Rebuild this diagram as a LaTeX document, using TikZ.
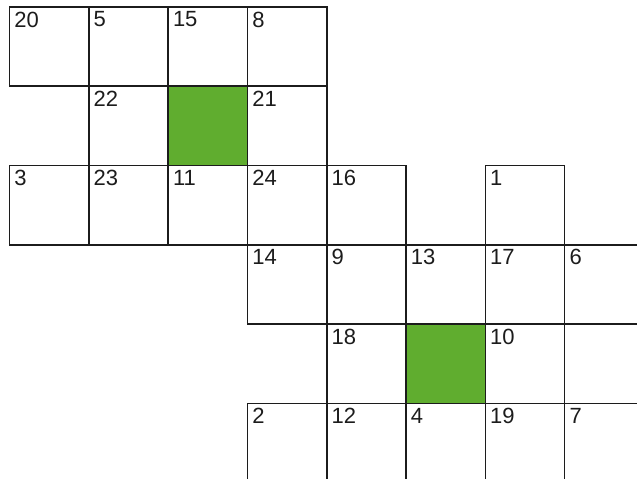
\documentclass[tikz,border=0pt]{standalone}
\usepackage{fontspec}
\setmainfont{Liberation Sans}
\usetikzlibrary{positioning, calc}
\definecolor{GridLine}{RGB}{28, 28, 28}
\definecolor{BlockGreen}{RGB}{96, 173, 47}

\begin{document}
\begin{tikzpicture}[
    x=1pt, y=-1pt,
    cell/.style={rectangle, draw=GridLine, line width=1.6pt, minimum size=79.3pt, inner sep=0pt, anchor=north west},
    block/.style={cell, fill=BlockGreen},
    num/.style={inner sep=0pt, anchor=north west, font=\fontsize{22}{24}\selectfont, text=GridLine}
]
    \useasboundingbox (0,0) rectangle (637,479);
    \clip (0,0) rectangle (637,479);

    % numbered cells: column / row / number
    \foreach \c/\r/\n in {0/0/20, 1/0/5, 2/0/15, 3/0/8,
                          1/1/22, 3/1/21,
                          0/2/3, 1/2/23, 2/2/11, 3/2/24, 4/2/16, 6/2/1,
                          3/3/14, 4/3/9, 5/3/13, 6/3/17, 7/3/6,
                          4/4/18, 6/4/10,
                          3/5/2, 4/5/12, 5/5/4, 6/5/19, 7/5/7} {
        \node[cell] (c\n) at (8.7+79.3*\c, 6+79.3*\r) {};
        \node[num] (n\n) at ($(c\n.north west)+(5.5,5.5)$) {\n};
    }

    % empty cell
    \node[cell] (blank) at (8.7+79.3*7, 6+79.3*4) {};

    % green blocks
    \node[block] (greenA) at (8.7+79.3*2, 6+79.3*1) {};
    \node[block] (greenB) at (8.7+79.3*5, 6+79.3*4) {};
\end{tikzpicture}
\end{document}
